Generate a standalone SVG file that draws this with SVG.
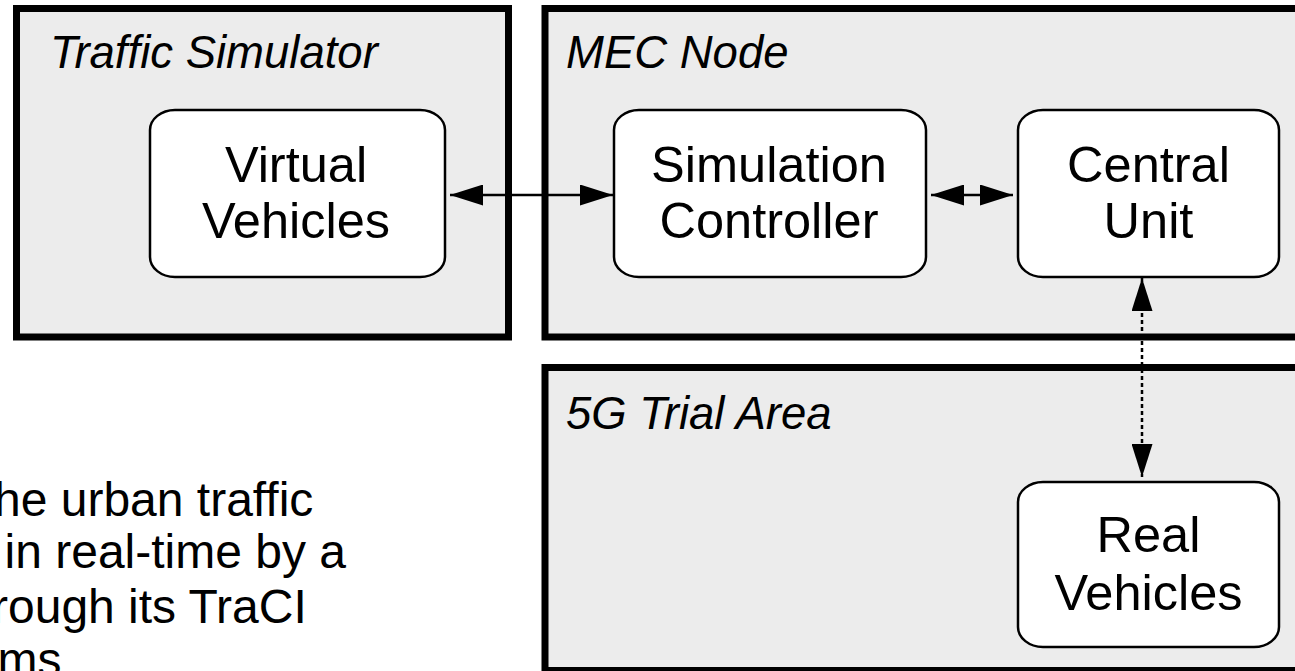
<svg xmlns="http://www.w3.org/2000/svg" width="1295" height="671" viewBox="0 0 1295 671">
  <style>
    .area { fill: #ececec; stroke: #000; stroke-width: 7; }
    .node { fill: #fff; stroke: #000; stroke-width: 2.5; }
    .area-label { font-family: "Liberation Sans", Arial, sans-serif; font-style: italic; font-size: 45.5px; fill: #000; }
    .node-label { font-family: "Liberation Sans", Arial, sans-serif; font-size: 50.5px; fill: #000; text-anchor: middle; }
    .body-text { font-family: "Liberation Sans", Arial, sans-serif; font-size: 48px; fill: #000; }
    .link { fill: none; stroke: #000; stroke-width: 2.5; }
    .link.dotted { stroke-dasharray: 4 3; }
  </style>
  <defs>
    <marker id="arrow" markerUnits="userSpaceOnUse" markerWidth="33" markerHeight="21" refX="33" refY="10.5" orient="auto-start-reverse">
      <path d="M0,0 L33,10.5 L0,21 Z" fill="#000"/>
    </marker>
  </defs>

  <rect width="1295" height="671" fill="#fff"/>

  <!-- Traffic simulator container -->
  <g id="traffic-simulator">
    <rect class="area" x="16.5" y="8.5" width="492" height="328.5"/>
    <text class="area-label" x="50" y="68">Traffic Simulator</text>
  </g>

  <!-- MEC node container -->
  <g id="mec-node">
    <rect class="area" x="545" y="8.5" width="780" height="328.5"/>
    <text class="area-label" x="566" y="68">MEC Node</text>
  </g>

  <!-- 5G trial area container -->
  <g id="trial-area">
    <rect class="area" x="545" y="367.5" width="780" height="303"/>
    <text class="area-label" x="566" y="429">5G Trial Area</text>
  </g>

  <g id="virtual-vehicles">
    <rect class="node" x="150" y="110" width="295" height="167" rx="25" ry="20"/>
    <text class="node-label" x="296" y="182">Virtual</text>
    <text class="node-label" x="296" y="238">Vehicles</text>
  </g>

  <g id="simulation-controller">
    <rect class="node" x="614" y="110" width="312" height="167" rx="25" ry="20"/>
    <text class="node-label" x="769" y="182">Simulation</text>
    <text class="node-label" x="769" y="238">Controller</text>
  </g>

  <g id="central-unit">
    <rect class="node" x="1018" y="110" width="261" height="167" rx="25" ry="20"/>
    <text class="node-label" x="1148.5" y="182">Central</text>
    <text class="node-label" x="1148.5" y="238">Unit</text>
  </g>

  <g id="real-vehicles">
    <rect class="node" x="1018" y="482" width="261" height="165" rx="25" ry="20"/>
    <text class="node-label" x="1148.5" y="552">Real</text>
    <text class="node-label" x="1148.5" y="610">Vehicles</text>
  </g>

  <!-- Connectors -->
  <g id="connectors">
    <line class="link" x1="450" y1="195" x2="613" y2="195" marker-start="url(#arrow)" marker-end="url(#arrow)"/>
    <line class="link" x1="931" y1="195" x2="1013" y2="195" marker-start="url(#arrow)" marker-end="url(#arrow)"/>
    <line class="link dotted" x1="1142" y1="278" x2="1142" y2="477" marker-start="url(#arrow)" marker-end="url(#arrow)"/>
  </g>

  <!-- Paragraph fragment running off the left and bottom edges -->
  <g id="caption">
    <text class="body-text" x="-6" y="516">he urban traffic</text>
    <text class="body-text" x="4.5" y="568">in real-time by a</text>
    <text class="body-text" x="-8" y="623">rough its TraCI</text>
    <text class="body-text" x="-2.5" y="676">ms</text>
  </g>
</svg>
